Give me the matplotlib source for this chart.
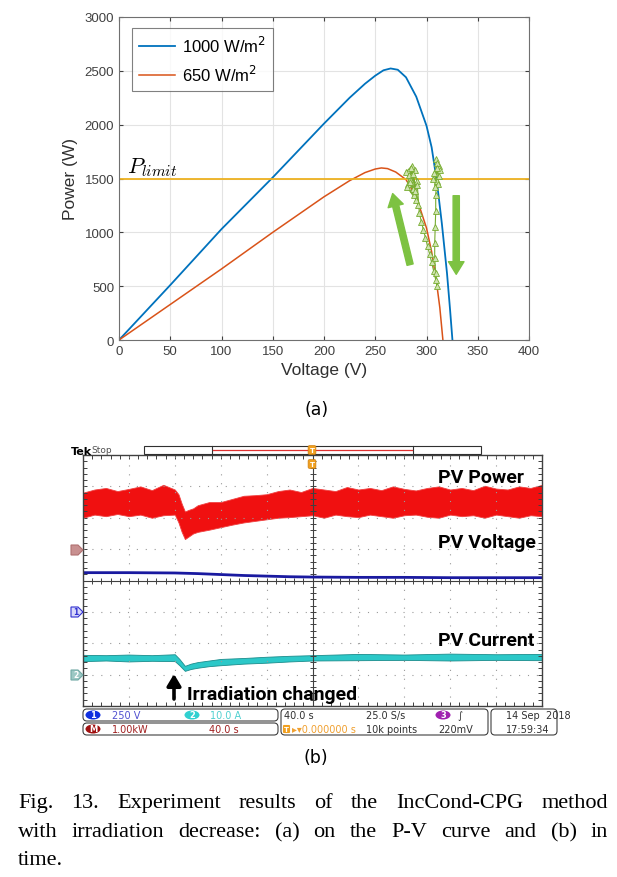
import numpy as np
import matplotlib
matplotlib.use('Agg')
import matplotlib.pyplot as plt
from matplotlib.patches import FancyBboxPatch, Ellipse, Polygon, Rectangle
from matplotlib.ticker import MultipleLocator

W, H = 617, 878

# (a) P-V curves
v_1000 = [0, 25, 50, 75, 100, 125, 150, 175, 200, 225, 240, 250, 258, 265, 272, 280, 290, 300, 305, 310, 315, 320, 323, 325.3]
p_1000 = [0, 255, 510, 770, 1030, 1270, 1510, 1760, 2010, 2250, 2380, 2455, 2505, 2522, 2510, 2440, 2260, 1990, 1790, 1480, 1080, 620, 280, 0]
v_650 = [0, 25, 50, 75, 100, 125, 150, 175, 200, 225, 240, 250, 256, 262, 270, 280, 290, 300, 305, 310, 313, 316]
p_650 = [0, 165, 330, 495, 660, 830, 1000, 1165, 1330, 1480, 1555, 1588, 1598, 1592, 1560, 1490, 1330, 1040, 820, 520, 300, 0]
p_limit = 1500

# operating point track (green triangles)
track_v = [284, 280, 286, 282, 289, 283, 287, 291, 285, 288, 281, 290, 284, 292, 287, 289, 291, 293,
           295, 297, 299, 301, 303, 305, 307, 309, 310.5, 309, 308, 308, 308.5, 309, 309, 310, 307,
           312, 309, 311, 306, 313, 310, 308, 312, 310]
track_p = [1500, 1560, 1620, 1450, 1580, 1530, 1400, 1480, 1600, 1350, 1420, 1300, 1470, 1250, 1540, 1380, 1440, 1180,
           1100, 1020, 950, 870, 800, 720, 640, 560, 500, 620, 760, 900, 1050, 1200, 1350, 1480, 1550,
           1620, 1680, 1450, 1500, 1580, 1640, 1420, 1520, 1600]

arrow_up = [(284, 700), (267, 1360)]      # tail, head
arrow_down = [(329, 1340), (329, 610)]

# (b) scope traces, time and level in divisions
red_t = [0, .25, .5, .75, 1, 1.25, 1.5, 1.75, 2.0, 2.08, 2.15, 2.22, 2.3, 2.4, 2.5, 2.75, 3, 3.25, 3.5, 3.75,
         4, 4.25, 4.5, 4.75, 5, 5.25, 5.5, 5.75, 6, 6.25, 6.5, 6.75, 7, 7.25, 7.5, 7.75, 8, 8.25, 8.5, 8.75,
         9, 9.25, 9.5, 9.75, 10]
red_hi = [6.8, 6.9, 6.95, 6.85, 6.92, 7.0, 6.88, 7.05, 6.9, 6.75, 6.45, 6.2, 6.25, 6.3, 6.4, 6.5, 6.5, 6.6, 6.7, 6.72,
          6.75, 6.85, 6.9, 6.82, 6.95, 6.9, 6.85, 6.98, 6.9, 6.95, 6.88, 7.0, 6.92, 6.87, 6.95, 7.0, 6.9, 6.95, 6.88, 7.02,
          6.93, 6.9, 7.0, 6.95, 7.05]
red_lo = [6.0, 6.1, 6.05, 6.12, 6.05, 6.1, 6.0, 6.08, 6.1, 5.85, 5.55, 5.32, 5.4, 5.5, 5.55, 5.62, 5.7, 5.78, 5.85, 5.9,
          5.95, 6.0, 6.02, 6.05, 6.08, 6.0, 6.1, 6.05, 6.02, 6.1, 6.05, 6.0, 6.08, 6.1, 6.03, 6.0, 6.1, 6.05, 6.08, 6.0,
          6.1, 6.05, 6.0, 6.08, 6.05]
blue_t = [0, 1, 2, 2.5, 3, 3.5, 4, 4.5, 5, 6, 7, 8, 9, 10]
blue_v = [4.25, 4.25, 4.24, 4.22, 4.19, 4.16, 4.14, 4.12, 4.11, 4.1, 4.1, 4.09, 4.09, 4.09]
cyan_t = [0, 0.5, 1, 1.5, 2.0, 2.1, 2.22, 2.35, 2.5, 2.75, 3, 3.5, 4, 4.5, 5, 6, 7, 8, 9, 10]
cyan_hi = [1.63, 1.62, 1.64, 1.62, 1.65, 1.5, 1.28, 1.35, 1.4, 1.45, 1.5, 1.53, 1.57, 1.6, 1.62, 1.66, 1.64, 1.67, 1.65, 1.66]
cyan_lo = [1.43, 1.45, 1.42, 1.44, 1.43, 1.3, 1.12, 1.18, 1.22, 1.27, 1.3, 1.35, 1.38, 1.42, 1.45, 1.46, 1.47, 1.45, 1.47, 1.46]

caption = [
    (808, ["Fig.", "13.", "Experiment", "results", "of", "the", "IncCond-CPG", "method"]),
    (837, ["with", "irradiation", "decrease:", "(a)", "on", "the", "P-V", "curve", "and", "(b)", "in"]),
    (865, ["time."]),
]

fig = plt.figure(figsize=(W / 100, H / 100), dpi=100)

# ---------------- panel (a) ----------------
sans = 'Liberation Sans'
ax = fig.add_axes([119 / W, 1 - 341 / H, 410 / W, 323 / H])
ax.plot(v_1000, p_1000, color='#0072BD', lw=1.3, label='1000 W/m$^2$')
ax.plot(v_650, p_650, color='#D95319', lw=1.1, label='650 W/m$^2$')
ax.axhline(p_limit, color='#EDB120', lw=1.3)
ax.plot(track_v, track_p, color='#77AC30', lw=0.8, marker='^', ms=4.5,
        mfc='#CFE3B0', mec='#77AC30', mew=0.6)
for tail, head in (arrow_up, arrow_down):
    ax.annotate('', xy=head, xytext=tail,
                arrowprops=dict(arrowstyle='simple,head_length=0.65,head_width=0.8,tail_width=0.32',
                                color='#7DC242', mutation_scale=14, shrinkA=0, shrinkB=0))
ax.text(8, 1560, r'$P_{limit}$', fontsize=16, math_fontfamily='cm')
ax.set_xlim(0, 400)
ax.set_ylim(0, 3000)
ax.set_xticks(np.arange(0, 401, 50))
ax.set_yticks(np.arange(0, 3001, 500))
ax.grid(True, color='#E3E3E3', lw=0.8)
ax.set_axisbelow(True)
ax.tick_params(direction='in', top=True, right=True, labelsize=9.5, colors='#404040', length=3)
for lab in ax.get_xticklabels() + ax.get_yticklabels():
    lab.set_family(sans)
for s in ax.spines.values():
    s.set_color('#707070')
ax.set_xlabel('Voltage (V)', fontsize=12.5, color='#303030', labelpad=4, family=sans)
ax.set_ylabel('Power (W)', fontsize=12.5, color='#303030', labelpad=5, family=sans)
leg = ax.legend(loc='upper left', bbox_to_anchor=(13 / 410, 1 - 11 / 323), borderaxespad=0,
                prop=dict(family=sans, size=12), fancybox=False, edgecolor='#606060', handlelength=2.2,
                labelspacing=0.55, borderpad=0.4, handletextpad=0.4)
leg.get_frame().set_linewidth(0.8)

# ---------------- panel (b) scope ----------------
sc = fig.add_axes([83 / W, 1 - 707 / H, 459 / W, 251 / H])
sc.set_xlim(0, 10)
sc.set_ylim(0, 8)
for x in range(1, 10):
    if x != 5:
        sc.axvline(x, color='#9A9A9A', lw=0.8, ls=(0, (1, 7)))
for y in range(1, 8):
    if y != 4:
        sc.axhline(y, color='#9A9A9A', lw=0.8, ls=(0, (1, 7)))
sc.axvline(5, color='#404040', lw=0.8)
sc.axhline(4, color='#404040', lw=0.8)
sc.plot(np.arange(0, 10.01, 0.2), np.full(51, 4.0), ls='none', marker='|', ms=4, mew=0.7, color='#404040')
sc.plot(np.full(41, 5.0), np.arange(0, 8.01, 0.2), ls='none', marker='_', ms=4, mew=0.7, color='#404040')
sc.xaxis.set_major_locator(MultipleLocator(1))
sc.xaxis.set_minor_locator(MultipleLocator(0.2))
sc.yaxis.set_major_locator(MultipleLocator(1))
sc.yaxis.set_minor_locator(MultipleLocator(0.2))
sc.tick_params(which='both', direction='in', top=True, right=True, labelbottom=False, labelleft=False,
               color='#404040', length=3, width=0.7)
for s in sc.spines.values():
    s.set_color('#404040')
    s.set_linewidth(1.0)

sc.fill_between(red_t, red_lo, red_hi, color='#F01010', lw=0.6, edgecolor='#F04040')
sc.plot(blue_t, blue_v, color='#1A1AA0', lw=2.0)
sc.fill_between(cyan_t, cyan_lo, cyan_hi, color='#2CC8C8', lw=0.6, edgecolor='#1A8C8C')

# ---------------- overlay in pixel units ----------------
ov = fig.add_axes([0, 0, 1, 1], zorder=10)
ov.set_xlim(0, W)
ov.set_ylim(H, 0)
ov.axis('off')
ov.patch.set_alpha(0)

ov.text(317, 410, '(a)', ha='center', va='center', fontsize=12.5, family='DejaVu Sans')
ov.text(316, 758, '(b)', ha='center', va='center', fontsize=12.5, family='DejaVu Sans')

# top of scope
ov.text(71, 452, 'Tek', fontsize=8, fontweight='bold', va='center')
ov.text(91, 451, 'Stop', fontsize=6.5, color='#505050', va='center')
ov.add_patch(Rectangle((144, 447), 337, 8, fill=False, ec='#303030', lw=0.8))
ov.plot([212, 212], [447, 455], color='#303030', lw=0.8)
ov.plot([413, 413], [447, 455], color='#303030', lw=0.8)
ov.plot([213, 412], [451, 451], color='#E03030', lw=0.9)
for ty in (451, 465):
    ov.text(312, ty, 'T', color='white', fontsize=5, ha='center', va='center', fontweight='bold',
            bbox=dict(boxstyle='round,pad=0.2', fc='#F0A020', ec='#D08010', lw=0.5))

# channel tags on left edge
for ty, fc, ec, lab, tc in ((551, '#C89090', '#B07070', '', 'white'),
                            (613, '#D8D8FA', '#3030D0', '1', '#3030D0'),
                            (676, '#9CC8C4', '#70A8A4', '2', 'white')):
    ov.add_patch(Polygon([(71, ty - 5), (78, ty - 5), (83, ty), (78, ty + 5), (71, ty + 5)],
                         closed=True, fc=fc, ec=ec, lw=0.8))
    if lab:
        ov.text(76, ty, lab, fontsize=5.5, color=tc, ha='center', va='center', fontweight='bold')

lbl = dict(fontsize=14, fontweight='bold', family=['Roboto', 'DejaVu Sans'], va='baseline')
ov.text(438, 483, 'PV Power', **lbl)
ov.text(438, 548, 'PV Voltage', **lbl)
ov.text(438, 646, 'PV Current', **lbl)
ov.text(187, 700, 'Irradiation changed', **lbl)
ov.annotate('', xy=(174, 675), xytext=(174, 700),
            arrowprops=dict(arrowstyle='-|>,head_length=0.5,head_width=0.3', lw=2.6, color='black',
                            mutation_scale=14, shrinkA=0, shrinkB=0))

# status bar
for bx, by, bw, bh in ((83, 710, 195, 12), (83, 724, 195, 12), (281, 710, 207, 26), (491, 710, 66, 26)):
    ov.add_patch(FancyBboxPatch((bx, by), bw, bh, boxstyle='round,pad=0,rounding_size=4',
                                fc='white', ec='#404040', lw=0.8))
for cx, cy, fc, lab in ((93, 716, '#1030E0', '1'), (192, 716, '#30D0D0', '2'),
                        (93, 730, '#A01010', 'M'), (443, 716, '#A020B0', '3')):
    ov.add_patch(Ellipse((cx, cy), 15, 9, fc=fc, ec='none'))
    ov.text(cx, cy, lab, fontsize=6, color='white', ha='center', va='center', fontweight='bold')
st = dict(fontsize=7, va='center')
ov.text(112, 716, '250 V', color='#5050D0', **st)
ov.text(210, 716, '10.0 A', color='#50D0D0', **st)
ov.text(112, 730, '1.00kW', color='#A02020', **st)
ov.text(209, 730, '40.0 s', color='#A02020', **st)
ov.text(284, 716, '40.0 s', color='#303030', **st)
ov.text(366, 716, '25.0 S/s', color='#303030', **st)
ov.text(457, 716, '\u222b', color='#303030', **st)
ov.text(284, 730, 'T', color='white', fontsize=5, va='center', fontweight='bold',
        bbox=dict(boxstyle='round,pad=0.15', fc='#F0A020', ec='none'))
ov.text(292, 730, '\u25b8\u25be0.000000 s', color='#F0A030', **st)
ov.text(366, 730, '10k points', color='#303030', **st)
ov.text(438, 730, '220mV', color='#303030', **st)
ov.text(506, 716, '14 Sep  2018', color='#303030', **st)
ov.text(506, 730, '17:59:34', color='#303030', **st)

# caption, justified between x=18 and x=608
fig.canvas.draw()
r = fig.canvas.get_renderer()
for cy, words in caption:
    ts = [ov.text(0, cy, w, fontsize=16, family='Liberation Serif', va='baseline') for w in words]
    widths = [t.get_window_extent(r).width for t in ts]
    if len(ts) == 1:
        ts[0].set_x(18)
        continue
    gap = (608 - 18 - sum(widths)) / (len(ts) - 1)
    x = 18
    for t, w in zip(ts, widths):
        t.set_x(x)
        x += w + gap

fig.savefig('out.png', dpi=100)
